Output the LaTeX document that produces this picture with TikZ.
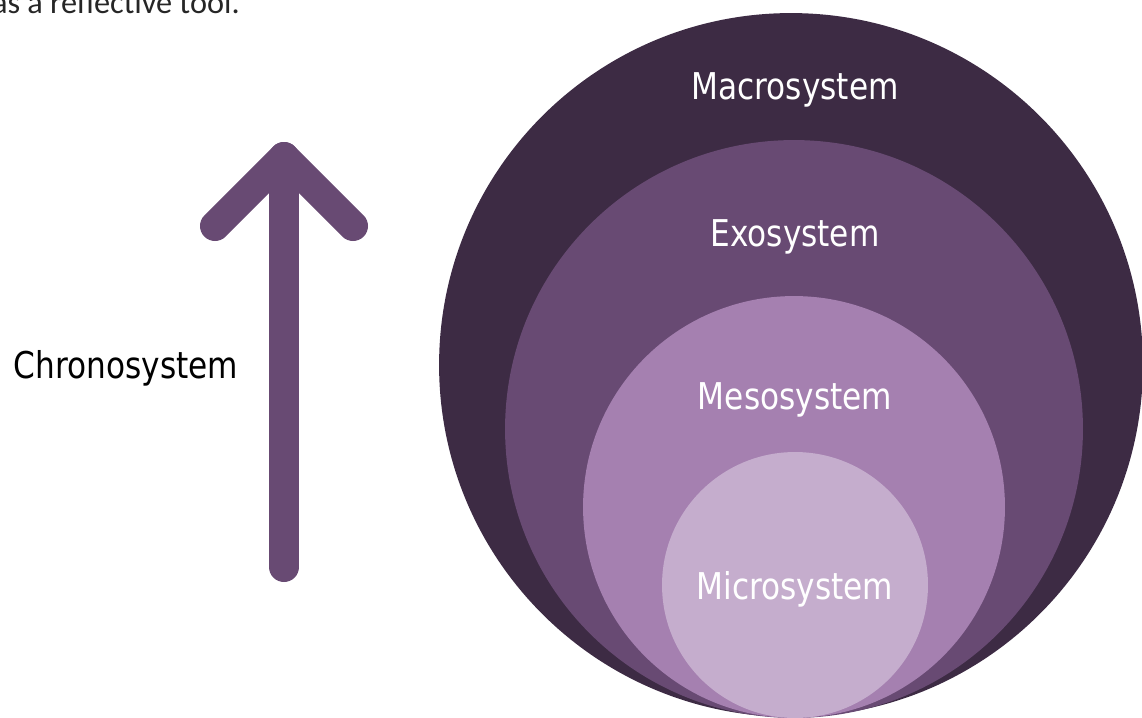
\documentclass[tikz,border=0pt]{standalone}
\usepackage{fontspec}
\newfontfamily\labelfont{DejaVu Sans}
\newfontfamily\bodyfont{Carlito}
\definecolor{macrocol}{RGB}{61,43,68}
\definecolor{exocol}{RGB}{104,74,115}
\definecolor{mesocol}{RGB}{165,128,176}
\definecolor{microcol}{RGB}{197,173,205}

\tikzset{
  layer/.style={font=\labelfont\fontsize{21}{25}\selectfont, text=white, xscale=0.845, inner sep=0pt},
  outside/.style={layer, text=black},
  timearrow/.style={draw=exocol, line width=0.6cm, line cap=round, line join=round}
}

\begin{document}
\begin{tikzpicture}[x=0.02cm, y=-0.02cm]
\useasboundingbox (0,0) rectangle (1142,717);
\clip (0,0) rectangle (1142,717);

% nested systems, all touching at the bottom
\fill[macrocol] (791,365) circle [radius=7.04cm];
\fill[exocol]   (794,429) circle [radius=5.78cm];
\fill[mesocol]  (794,507) circle [radius=4.22cm];
\fill[microcol] (795,585) circle [radius=2.66cm];

\node[layer] (macro) at (795,90)  {Macrosystem};
\node[layer] (exo)   at (795,237) {Exosystem};
\node[layer] (meso)  at (795,400) {Mesosystem};
\node[layer] (micro) at (795,589) {Microsystem};

% time axis
\coordinate (tail)  at (284,567);
\coordinate (tip)   at (284,157);
\coordinate (left)  at (215,226);
\coordinate (right) at (353,226);
\draw[timearrow] (tail) -- (tip);
\draw[timearrow] (left) -- (tip) -- (right);

\node[outside] (chrono) at (126,368) {Chronosystem};

% end of the running text above
\node[font=\bodyfont\fontsize{18.4}{22}\selectfont, anchor=base east, inner sep=0pt, text=black!85] (caption) at (240,13) {as a reflective tool.};
\end{tikzpicture}
\end{document}
